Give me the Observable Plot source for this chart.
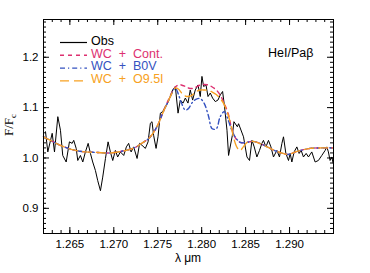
<!DOCTYPE html>
<html><head><meta charset="utf-8">
<script src="https://cdn.jsdelivr.net/npm/d3@7"></script>
<script src="https://cdn.jsdelivr.net/npm/@observablehq/plot@0.6"></script>
<style>body{margin:0;background:#fff}</style>
</head><body><div id="chart"></div>
<script>
// Observed spectrum (wavelength in micron, normalised flux)
const obsLambda = [1.26223,1.26249,1.26299,1.26325,1.26363,1.26393,1.26419,1.26458,1.26495,1.26526,1.26544,1.26572,1.26590,1.26620,1.26647,1.26677,1.26708,1.26734,1.26760,1.26791,1.26817,1.26848,1.26874,1.26905,1.26935,1.26961,1.26988,1.27018,1.27044,1.27075,1.27113,1.27143,1.27169,1.27197,1.27226,1.27265,1.27294,1.27322,1.27359,1.27390,1.27416,1.27435,1.27453,1.27481,1.27503,1.27530,1.27556,1.27586,1.27613,1.27643,1.27669,1.27700,1.27731,1.27757,1.27788,1.27814,1.27844,1.27870,1.27897,1.27927,1.27958,1.27984,1.28003,1.28022,1.28049,1.28072,1.28098,1.28124,1.28155,1.28185,1.28211,1.28238,1.28260,1.28288,1.28306,1.28349,1.28367,1.28406,1.28420,1.28476,1.28515,1.28544,1.28572,1.28598,1.28628,1.28658,1.28685,1.28703,1.28731,1.28760,1.28788,1.28817,1.28856,1.28885,1.28913,1.28931,1.28958,1.28988,1.29007,1.29026,1.29052,1.29083,1.29109,1.29132,1.29158,1.29189,1.29215,1.29253,1.29291,1.29328,1.29367,1.29405,1.29424,1.29442,1.29461,1.29481,1.29495];
const obsFlux = [1.052,1.012,1.049,1.012,1.082,1.055,1.005,0.992,1.032,1.029,1.035,1.019,0.995,1.005,0.992,1.012,1.029,1.009,0.992,0.975,0.955,0.935,0.962,0.999,1.032,1.012,0.995,1.015,1.002,1.012,1.005,1.022,1.029,1.012,1.022,0.999,1.029,1.025,1.019,1.032,1.069,1.072,1.045,1.019,1.042,1.089,1.092,1.102,1.109,1.122,1.135,1.142,1.089,1.115,1.109,1.119,1.109,1.135,1.115,1.135,1.145,1.122,1.162,1.142,1.145,1.122,1.129,1.119,1.112,1.115,1.125,1.132,1.102,1.055,1.005,1.045,1.072,1.062,1.068,1.042,1.002,0.995,1.035,1.022,1.002,1.015,1.029,1.035,1.022,1.035,1.022,1.002,1.015,1.002,1.029,1.042,1.009,0.995,1.009,0.992,1.012,1.022,1.009,1.015,1.002,1.009,1.002,1.012,0.992,0.995,1.005,1.015,1.022,1.012,0.995,1.002,0.990];
// Model spectra on a common wavelength grid
const modelLambda = [1.26200,1.26280,1.26393,1.26541,1.26677,1.26814,1.26961,1.27109,1.27245,1.27325,1.27393,1.27450,1.27507,1.27564,1.27620,1.27666,1.27700,1.27734,1.27768,1.27814,1.27848,1.27893,1.27939,1.27984,1.28030,1.28075,1.28120,1.28166,1.28211,1.28257,1.28302,1.28336,1.28370,1.28405,1.28439,1.28473,1.28518,1.28586,1.28700,1.28814,1.28927,1.28984,1.29086,1.29234,1.29370,1.29495];
const contFlux = [1.042,1.035,1.025,1.016,1.012,1.011,1.010,1.014,1.021,1.030,1.038,1.050,1.068,1.092,1.115,1.132,1.141,1.145,1.145,1.142,1.139,1.138,1.141,1.145,1.146,1.145,1.141,1.135,1.125,1.108,1.088,1.062,1.044,1.035,1.031,1.030,1.031,1.033,1.026,1.016,1.009,1.007,1.013,1.019,1.020,1.020];
const b0vFlux = [1.042,1.035,1.025,1.016,1.012,1.011,1.010,1.014,1.021,1.030,1.038,1.050,1.068,1.092,1.113,1.130,1.139,1.127,1.110,1.095,1.098,1.110,1.117,1.118,1.108,1.085,1.058,1.058,1.082,1.092,1.075,1.058,1.045,1.036,1.031,1.030,1.031,1.033,1.026,1.016,1.009,1.007,1.013,1.019,1.020,1.020];
const o95Flux = [1.042,1.035,1.025,1.016,1.012,1.011,1.010,1.014,1.021,1.030,1.038,1.050,1.068,1.092,1.113,1.130,1.139,1.137,1.130,1.123,1.122,1.125,1.132,1.135,1.135,1.134,1.131,1.126,1.118,1.106,1.085,1.062,1.036,1.020,1.015,1.022,1.031,1.033,1.026,1.016,1.009,1.007,1.013,1.019,1.020,1.020];

const seriesNames = ["Obs","WC + Cont.","WC + B0V","WC + O9.5I"];
const seriesColors = ["#000000","#dd3070","#3552c0","#f7a122"];
const seriesDash = [null,"4,4","5,3,1.2,3","9,5"];
const xTicks = [1.265,1.270,1.275,1.280,1.285,1.290];
const yTicks = [0.9,1.0,1.1,1.2];
const xMinor = d3.range(1262,1295).map(d=>d/1000);
const yMinor = d3.range(85,128).map(d=>d/100);
const lineLabel = "HeI/Paβ";

const FONT = "'Liberation Sans Narrow','Liberation Sans',sans-serif";
const W=370,H=273,mL=43,mR=37,mT=19,mB=40;
const fw=W-mL-mR, fh=H-mT-mB;
const obs = obsLambda.map((x,i)=>({x,y:obsFlux[i]}));
const mk = arr => modelLambda.map((x,i)=>({x,y:arr[i]}));
const models = [mk(contFlux), mk(b0vFlux), mk(o95Flux)];
const tickStyle = {stroke:"#000", strokeWidth:1};

const svg = Plot.plot({
  width:W, height:H, marginLeft:mL, marginRight:mR, marginTop:mT, marginBottom:mB,
  style:{fontFamily:FONT, fontSize:"11.5px", color:"#000", background:"#fff", overflow:"visible"},
  x:{domain:[1.262,1.295], label:null},
  y:{domain:[0.85,1.275], label:null},
  marks:[
    Plot.axisX(xTicks,{tickSize:0, tickPadding:6, tickFormat:d3.format(".3f"), label:null}),
    Plot.axisY(yTicks,{tickSize:0, tickPadding:5, tickFormat:d3.format(".1f"), label:null}),
    Plot.tickX(xTicks,{x:d=>d, insetTop:fh-6, ...tickStyle}),
    Plot.tickX(xTicks,{x:d=>d, insetBottom:fh-6, ...tickStyle}),
    Plot.tickX(xMinor,{x:d=>d, insetTop:fh-3, ...tickStyle}),
    Plot.tickX(xMinor,{x:d=>d, insetBottom:fh-3, ...tickStyle}),
    Plot.tickY(yTicks,{y:d=>d, insetRight:fw-6, ...tickStyle}),
    Plot.tickY(yTicks,{y:d=>d, insetLeft:fw-6, ...tickStyle}),
    Plot.tickY(yMinor,{y:d=>d, insetRight:fw-3, ...tickStyle}),
    Plot.tickY(yMinor,{y:d=>d, insetLeft:fw-3, ...tickStyle}),
    Plot.line(obs,{x:"x", y:"y", stroke:seriesColors[0], strokeWidth:1}),
    ...models.map((m,i)=>Plot.line(m,{x:"x", y:"y", stroke:seriesColors[i+1], strokeWidth:1.4, strokeDasharray:seriesDash[i+1], curve:"catmull-rom"})),
    Plot.frame({stroke:"#000", strokeWidth:1})
  ]
});

const s = d3.select(svg);
const lg = s.append("g").attr("font-family",FONT).attr("font-size",11.5).attr("text-anchor","start");
seriesNames.forEach((n,i)=>{
  const cy = 40.5 + i*12.8;
  lg.append("line").attr("x1",60).attr("x2",87).attr("y1",cy+2).attr("y2",cy+2)
    .attr("stroke",seriesColors[i]).attr("stroke-width",i?1.4:1.2).attr("stroke-dasharray",seriesDash[i]);
  lg.append("text").attr("x",91).attr("y",cy).attr("dy","0.35em").attr("fill",seriesColors[i])
    .attr("text-anchor","start").style("white-space","pre").style("font-size","12.5px").text(n.replace(/ \+ /,"  +  "));
});
s.append("text").attr("x",268).attr("y",52.5).attr("dy","0.35em").attr("text-anchor","start")
  .attr("font-family",FONT).attr("font-size",12.5).text(lineLabel);
const yl = s.append("text").attr("transform","translate(13,125) rotate(-90)").attr("text-anchor","middle")
  .attr("font-family","'Liberation Serif',serif").attr("font-size",13);
yl.append("tspan").text("F/F");
yl.append("tspan").attr("font-size",9).attr("dy",3).text("c");
s.append("text").attr("x",188).attr("y",258).attr("dy","0.35em").attr("text-anchor","middle")
  .attr("font-family",FONT).attr("font-size",12).text("λ μm");
document.getElementById("chart").appendChild(svg);
</script></body></html>
